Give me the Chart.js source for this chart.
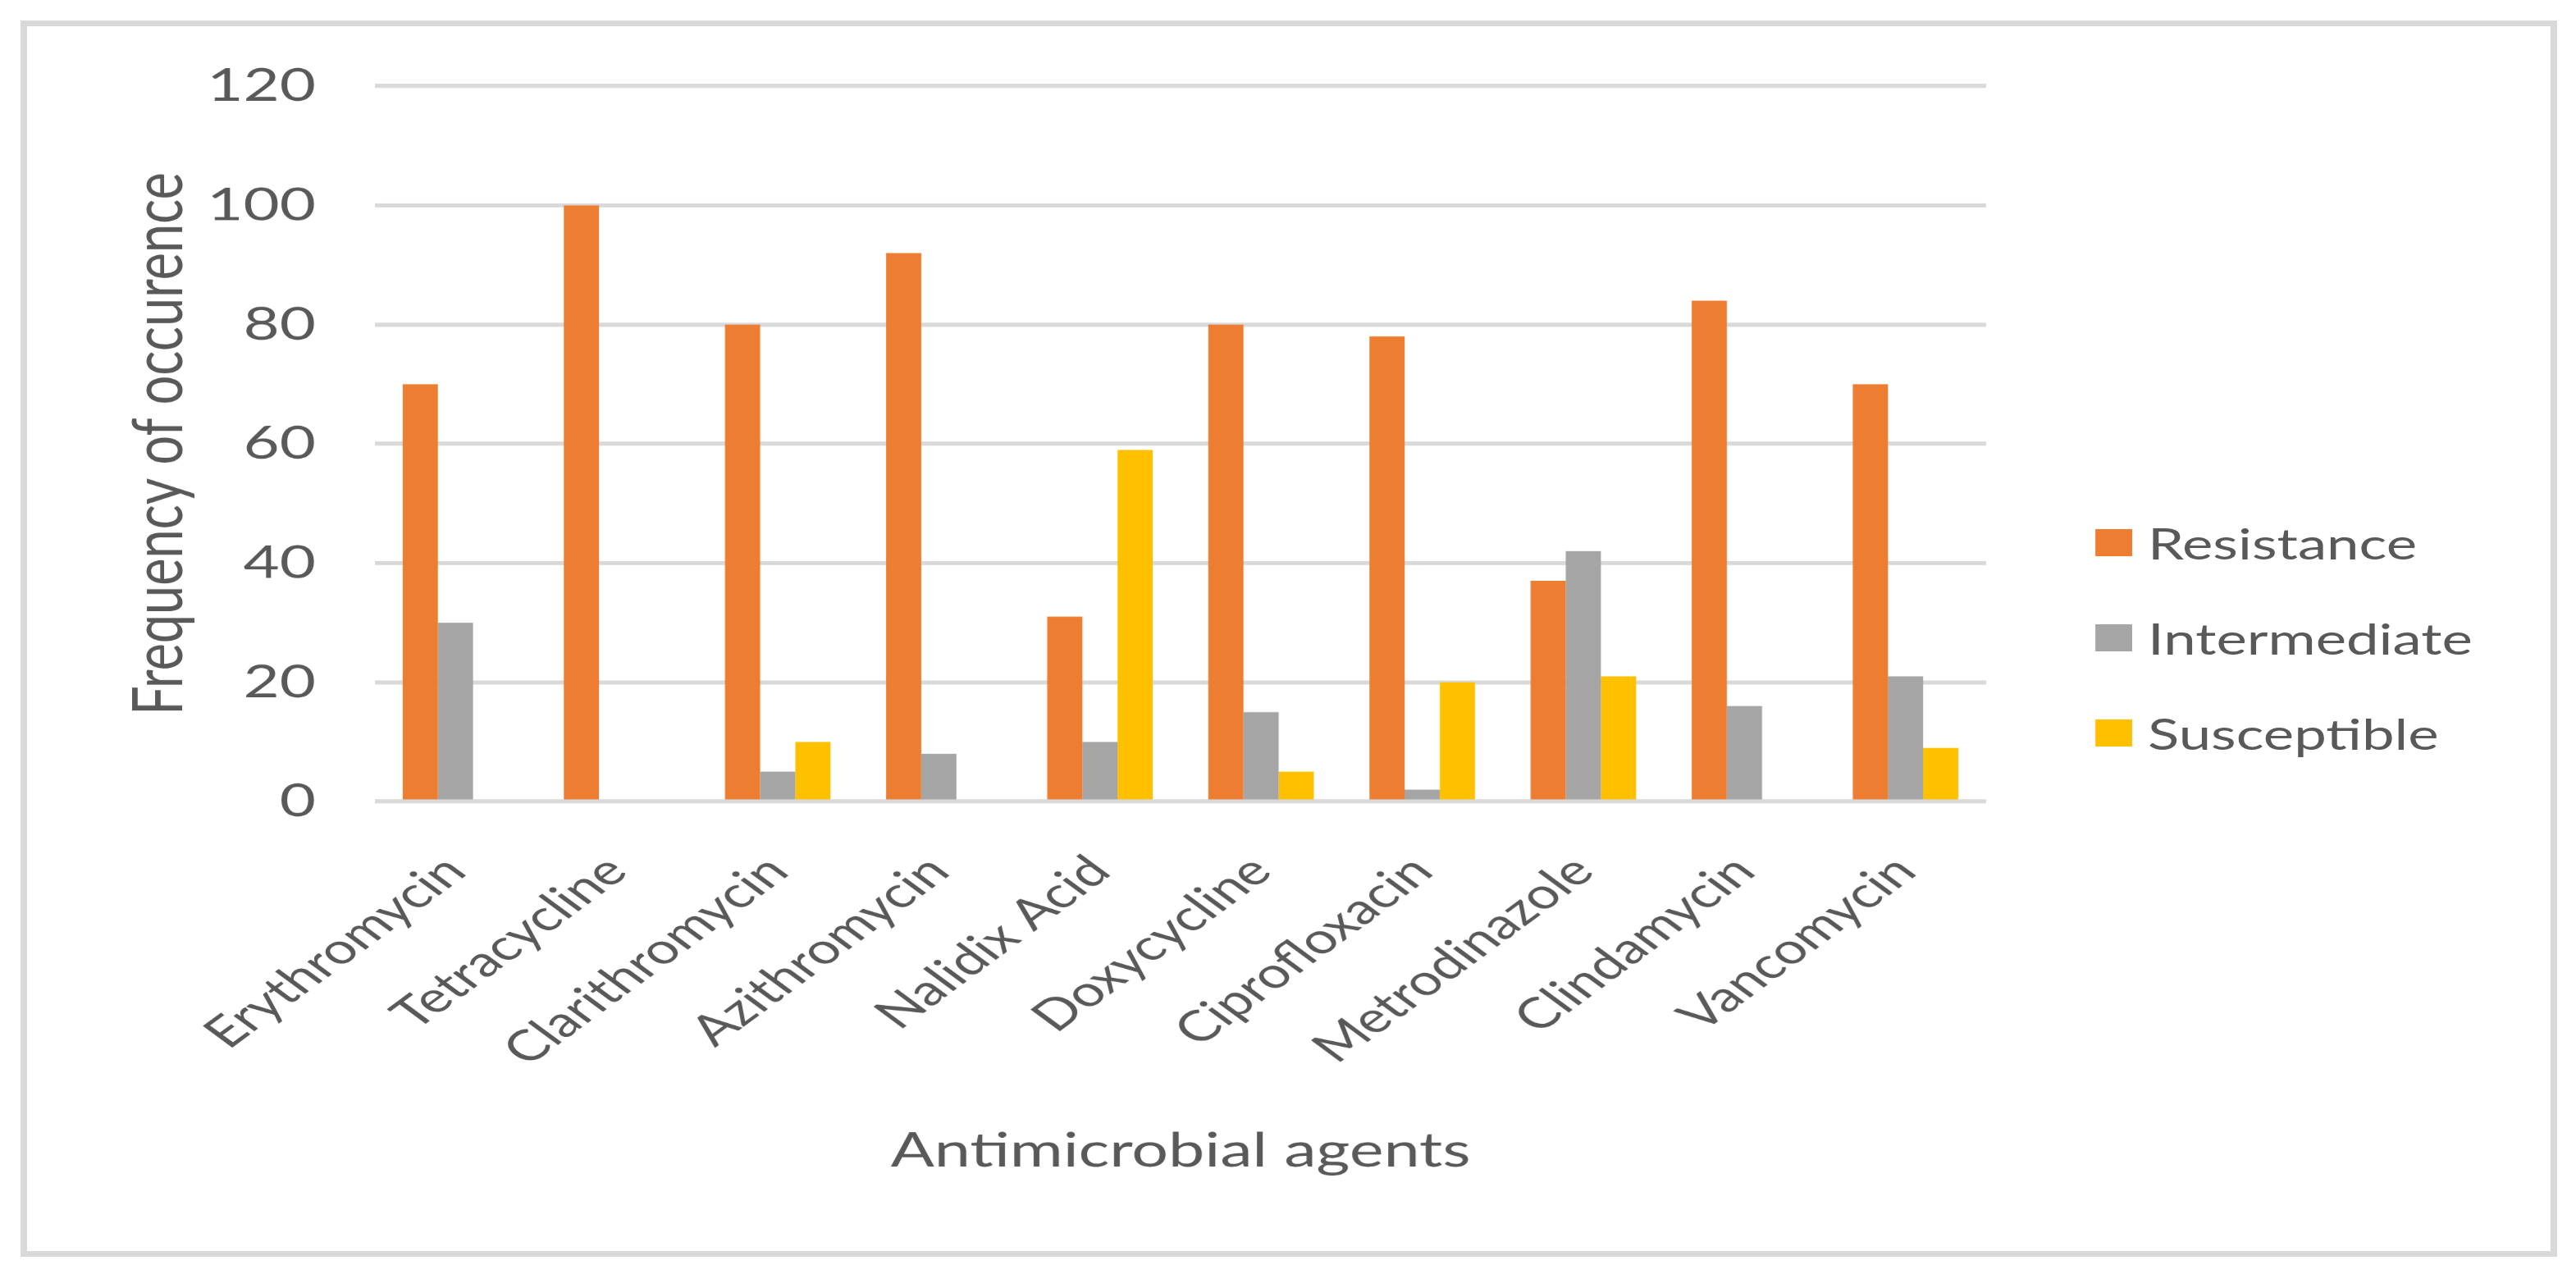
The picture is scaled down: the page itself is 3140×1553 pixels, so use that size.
<!DOCTYPE html>
<html>
<head>
<meta charset="utf-8">
<title>Antimicrobial agents</title>
<script src="https://cdn.jsdelivr.net/npm/chart.js@4.4.1/dist/chart.umd.min.js"></script>
<style>
    html, body { margin: 0; padding: 0; background: #fff; }
    body { width: 3140px; height: 1553px; position: relative; overflow: hidden; }
    #frame {
        position: absolute; left: 25px; top: 25px;
        width: 3076px; height: 1493px;
        border-left: 8px solid #d9d9d9; border-right: 8px solid #d9d9d9;
        border-top: 7px solid #d9d9d9; border-bottom: 7px solid #d9d9d9;
    }
    /* the reference figure is stretched sideways, so the chart is laid out
       narrower and widened with scaleX */
    #stage {
        position: absolute; left: 0; top: 0;
        width: 2309px; height: 1553px;
        transform: scaleX(1.36); transform-origin: 0 0;
    }
    #legend {
        position: absolute; left: 1878px; top: 645px;
        display: flex; flex-direction: column; gap: 83px;
        font-family: Lato, sans-serif; font-size: 52px; color: #595959;
    }
    #legend .item { display: flex; align-items: center; height: 33px; }
    #legend .box { width: 33px; height: 33px; margin-right: 14px; }
</style>
</head>
<body>
<div id="frame"></div>
<div id="stage">
    <canvas id="chart"></canvas>
    <div id="legend"></div>
</div>
<script>
const categories = ['Erythromycin', 'Tetracycline', 'Clarithromycin', 'Azithromycin', 'Nalidix Acid',
    'Doxycycline', 'Ciprofloxacin', 'Metrodinazole', 'Clindamycin', 'Vancomycin'];
const resistance = [70, 100, 80, 92, 31, 80, 78, 37, 84, 70];
const intermediate = [30, 0, 5, 8, 10, 15, 2, 42, 16, 21];
const susceptible = [0, 0, 10, 0, 59, 5, 20, 21, 0, 9];
const seriesNames = ['Resistance', 'Intermediate', 'Susceptible'];
const seriesColors = ['#ed7d31', '#a5a5a5', '#ffc000'];
const yMax = 120;
const yStep = 20;

const textColor = '#595959';
const gridColor = '#d9d9d9';

const chart = new Chart(document.getElementById('chart'), {
    type: 'bar',
    data: {
        labels: categories,
        datasets: [resistance, intermediate, susceptible].map((values, i) => ({
            label: seriesNames[i],
            data: values,
            backgroundColor: seriesColors[i],
            borderWidth: 0,
            categoryPercentage: 0.655,
            barPercentage: 1,
        })),
    },
    options: {
        responsive: true,
        maintainAspectRatio: false,
        devicePixelRatio: 1.36,
        animation: false,
        layout: {
            padding: { top: 105, right: 529, bottom: 0, left: 0 }
        },
        scales: {
            x: {
                grid: { display: false, drawTicks: false },
                border: { display: false },
                ticks: {
                    color: textColor,
                    font: { family: 'Lato', size: 52 },
                    minRotation: 45,
                    maxRotation: 45,
                    autoSkip: false,
                    padding: 54,
                },
                title: {
                    display: true,
                    text: 'Antimicrobial agents',
                    color: textColor,
                    font: { family: 'Lato', size: 58 },
                    padding: { top: 0, bottom: 115 },
                },
                afterFit(scale) {
                    scale.height = 576;
                },
            },
            y: {
                min: 0,
                max: yMax,
                grid: { color: gridColor, lineWidth: 5, drawTicks: false },
                border: { display: false },
                ticks: {
                    stepSize: yStep,
                    color: textColor,
                    font: { family: 'Lato', size: 56 },
                    padding: 53,
                },
                title: {
                    display: true,
                    text: 'Frequency of occurence',
                    color: textColor,
                    font: { family: 'Lato', size: 63 },
                    padding: { top: 105, bottom: 0 },
                },
                afterFit(scale) {
                    scale.width = 336;
                },
            },
        },
        plugins: {
            legend: { display: false },
            tooltip: { enabled: false },
        },
    },
});

// legend on the right, taken from the datasets
const legendEl = document.getElementById('legend');
chart.data.datasets.forEach(ds => {
    const item = document.createElement('div');
    item.className = 'item';
    const box = document.createElement('span');
    box.className = 'box';
    box.style.background = ds.backgroundColor;
    const label = document.createElement('span');
    label.textContent = ds.label;
    item.appendChild(box);
    item.appendChild(label);
    legendEl.appendChild(item);
});
</script>
</body>
</html>
